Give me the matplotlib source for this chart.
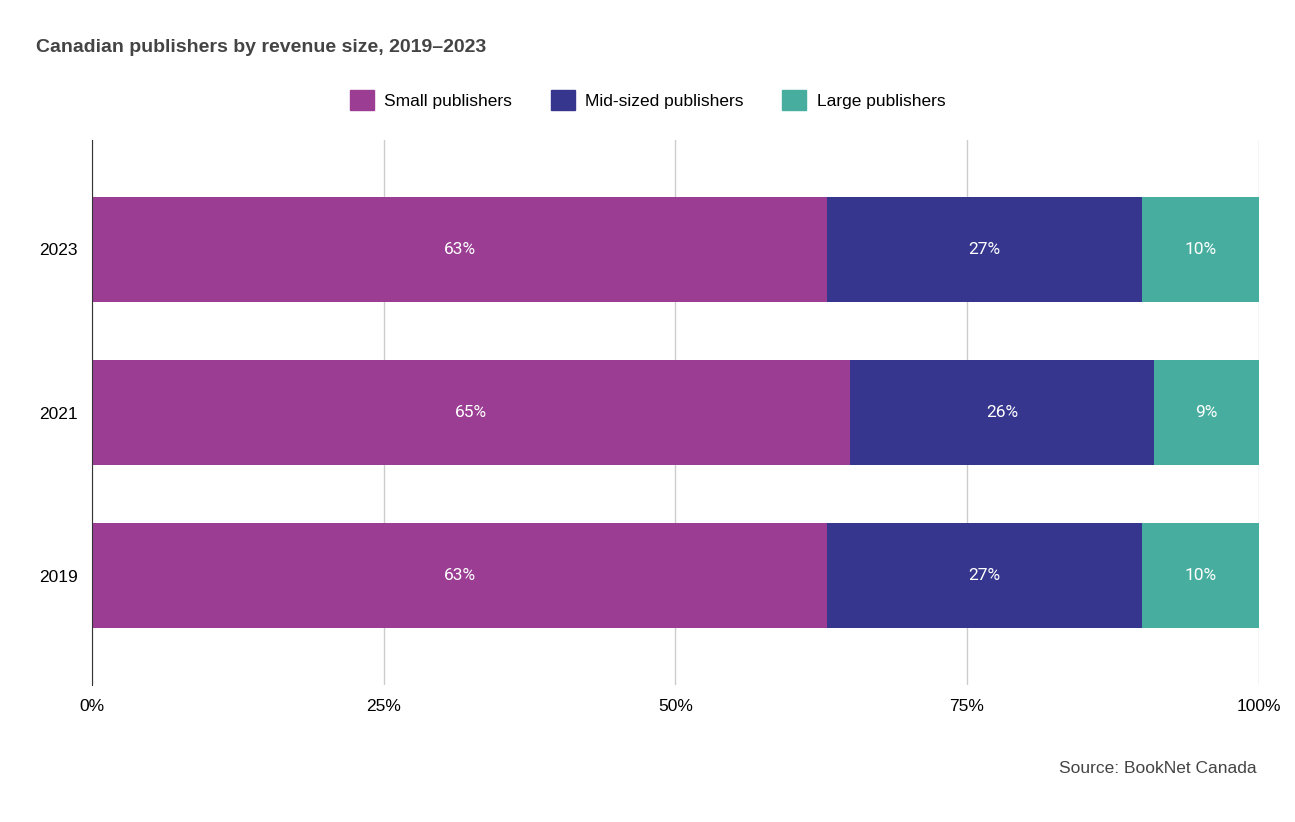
import matplotlib.pyplot as plt
from matplotlib.patches import Patch

years = ["2019", "2021", "2023"]
small = [63, 65, 63]
mid = [27, 26, 27]
large = [10, 9, 10]

series = [("Small publishers", small, "#9a3d93"),
          ("Mid-sized publishers", mid, "#37368f"),
          ("Large publishers", large, "#47ae9f")]

plt.rcParams["font.family"] = ["Liberation Sans", "DejaVu Sans"]

fig = plt.figure(figsize=(12.95, 8.22), dpi=100)
ax = fig.add_axes([0.071, 0.1667, 0.901, 0.663])

y = range(len(years))
left = [0] * len(years)
for name, vals, color in series:
    ax.barh(y, vals, left=left, height=0.645, color=color, zorder=2)
    for i, v in enumerate(vals):
        ax.text(left[i] + v / 2, i, f"{v}%", ha="center", va="center",
                color="white", fontsize=12.5, family="Roboto", zorder=3)
    left = [l + v for l, v in zip(left, vals)]

ax.set_xlim(0, 100)
ax.set_ylim(-0.669, 2.67)
ax.set_yticks(list(y))
ax.set_yticklabels(years, fontsize=12.5)
ax.set_xticks([0, 25, 50, 75, 100])
ax.set_xticklabels(["0%", "25%", "50%", "75%", "100%"], fontsize=12.5)
ax.tick_params(length=0, pad=10)
ax.grid(axis="x", color="#cccccc", linewidth=1, zorder=0)
for s in ["top", "right", "bottom"]:
    ax.spines[s].set_visible(False)
ax.spines["left"].set_color("#333333")

fig.text(36 / 1295, 1 - 47 / 822, "Canadian publishers by revenue size, 2019\u20132023",
         fontsize=14, fontweight="bold", color="#444444", va="center")
handles = [Patch(color=c, label=n) for n, _, c in series]
fig.legend(handles=handles, loc="center", bbox_to_anchor=(0.5, 1 - 100 / 822),
           ncol=3, frameon=False, fontsize=12.5, handlelength=1.4, handleheight=1.4,
           columnspacing=2.2, handletextpad=0.6)
fig.text(1257 / 1295, 1 - 768 / 822, "Source: BookNet Canada", ha="right",
         va="center", fontsize=12.5, color="#444444")

fig.savefig("out.png", dpi=100)
